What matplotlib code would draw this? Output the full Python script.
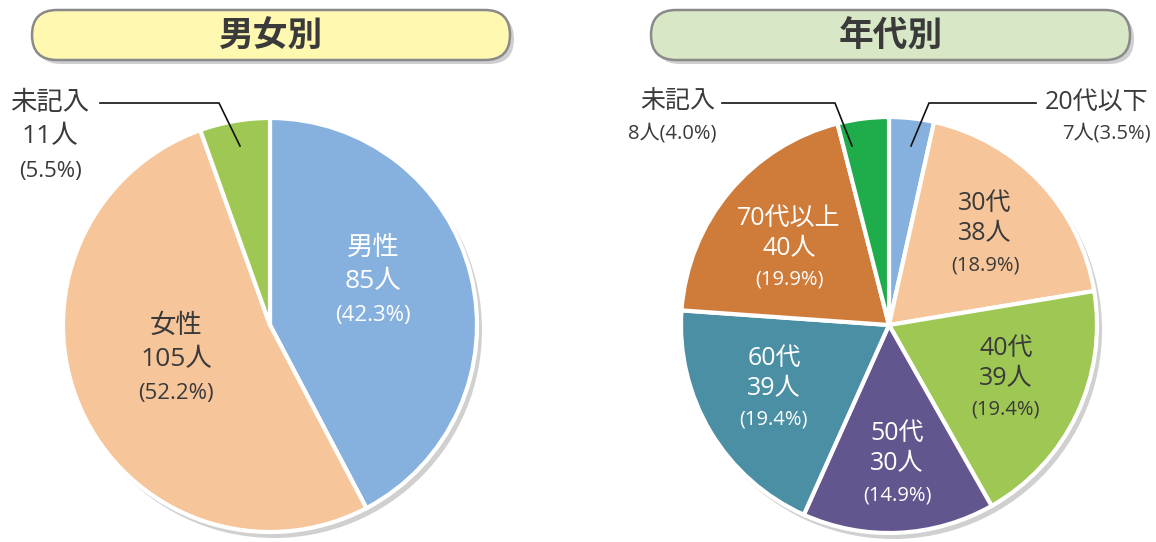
import numpy as np
import matplotlib
matplotlib.use("Agg")
import matplotlib.pyplot as plt
from matplotlib.patches import FancyBboxPatch, Circle

plt.rcParams['font.family'] = ['Open Sans', 'Noto Sans CJK JP', 'DejaVu Sans']

# data
gender_labels = ["男性", "女性", "未記入"]
gender_values = [85, 105, 11]
gender_colors = ["#86b1df", "#f7c59a", "#9ec853"]

age_labels = ["20代以下", "30代", "40代", "50代", "60代", "70代以上", "未記入"]
age_values = [7, 38, 39, 30, 39, 40, 8]
age_colors = ["#86b1df", "#f7c59a", "#9ec853", "#63568e", "#4a8fa4", "#cf7b3a", "#1fac4a"]

W, H = 1156, 542
TXT = "#3a3a3a"
LW = "normal"

fig = plt.figure(figsize=(W / 100, H / 100), dpi=100)
ax = fig.add_axes([0, 0, 1, 1])


def py(y):
    # pixel y (from top) -> data y
    return H - y


def title_box(x0, x1, y0, y1, fc, text):
    h = y1 - y0
    sh = FancyBboxPatch((x0 + 4, py(y1) - 4), x1 - x0, h,
                        boxstyle="round,pad=0,rounding_size=%d" % (h / 2),
                        fc="#cfcfcf", ec="none", zorder=1)
    bx = FancyBboxPatch((x0, py(y1)), x1 - x0, h,
                        boxstyle="round,pad=0,rounding_size=%d" % (h / 2),
                        fc=fc, ec="#8a8a8a", lw=1.8, zorder=2)
    ax.add_patch(sh)
    ax.add_patch(bx)
    ax.text((x0 + x1) / 2, py((y0 + y1) / 2 + 1), text, ha="center", va="center",
            fontsize=25, fontweight="bold", color=TXT, zorder=3,
            family=['Noto Sans CJK JP'])


def draw_pie(values, colors, cx, cy, r):
    ax.add_patch(Circle((cx + 4, py(cy) - 5), r + 1, fc="#d0d0d0", ec="none", zorder=1))
    ax.pie(values, colors=colors, startangle=90, counterclock=False,
           center=(cx, py(cy)), radius=r,
           wedgeprops=dict(edgecolor="white", linewidth=3, zorder=2))


def label(x, y, s, color, fs):
    ax.text(x, py(y), s, ha="center", va="center", fontsize=fs, color=color,
            fontweight=LW, zorder=5)


def block(x, y, lines, color, sizes, gap=34):
    for i, (s, fs) in enumerate(zip(lines, sizes)):
        label(x, y + i * gap, s, color, fs)


def leader(pts):
    xs = [p[0] for p in pts]
    ys = [py(p[1]) for p in pts]
    ax.plot(xs, ys, color="#111111", lw=1.2, zorder=6)


title_box(32, 510, 10, 60, "#fff8b0", "男女別")
title_box(651, 1130, 10, 60, "#d8e8c6", "年代別")

draw_pie(gender_values, gender_colors, 270, 325, 207)
draw_pie(age_values, age_colors, 889, 325, 208)

g_tot = sum(gender_values)
a_tot = sum(age_values)


def pct(v, t):
    return "(%.1f%%)" % (100 * v / t)


# gender labels
g_pos = [(373, 248, "white"), (176, 326, TXT)]
for (x, y, c), lab, v in zip(g_pos, gender_labels[:2], gender_values[:2]):
    block(x, y, [lab, "%d人" % v, pct(v, g_tot)], c, [19, 19, 16])

block(50, 103, [gender_labels[2], "%d人" % gender_values[2], pct(gender_values[2], g_tot)], TXT, [19, 19, 16])
leader([(100, 103), (219, 103), (240, 146)])

# age labels
a_pos = {1: (985, 203, TXT), 2: (1006, 348, TXT), 3: (897, 433, "white"),
         4: (774, 358, "white"), 5: (789, 218, "white")}
for i, (x, y, c) in a_pos.items():
    block(x, y, [age_labels[i], "%d人" % age_values[i], pct(age_values[i], a_tot)], c, [18, 18, 14.5], gap=31)

label(1097, 102, age_labels[0], TXT, 18)
label(1106, 133, "%d人%s" % (age_values[0], pct(age_values[0], a_tot)), TXT, 14.5)
leader([(1036, 103), (929, 103), (911, 146)])

label(678, 102, age_labels[6], TXT, 18)
label(672, 133, "%d人%s" % (age_values[6], pct(age_values[6], a_tot)), TXT, 14.5)
leader([(722, 103), (835, 103), (852, 146)])

ax.set_xlim(0, W)
ax.set_ylim(0, H)
ax.set_aspect("equal")
ax.axis("off")

fig.savefig("out.png", dpi=100, facecolor="white")
